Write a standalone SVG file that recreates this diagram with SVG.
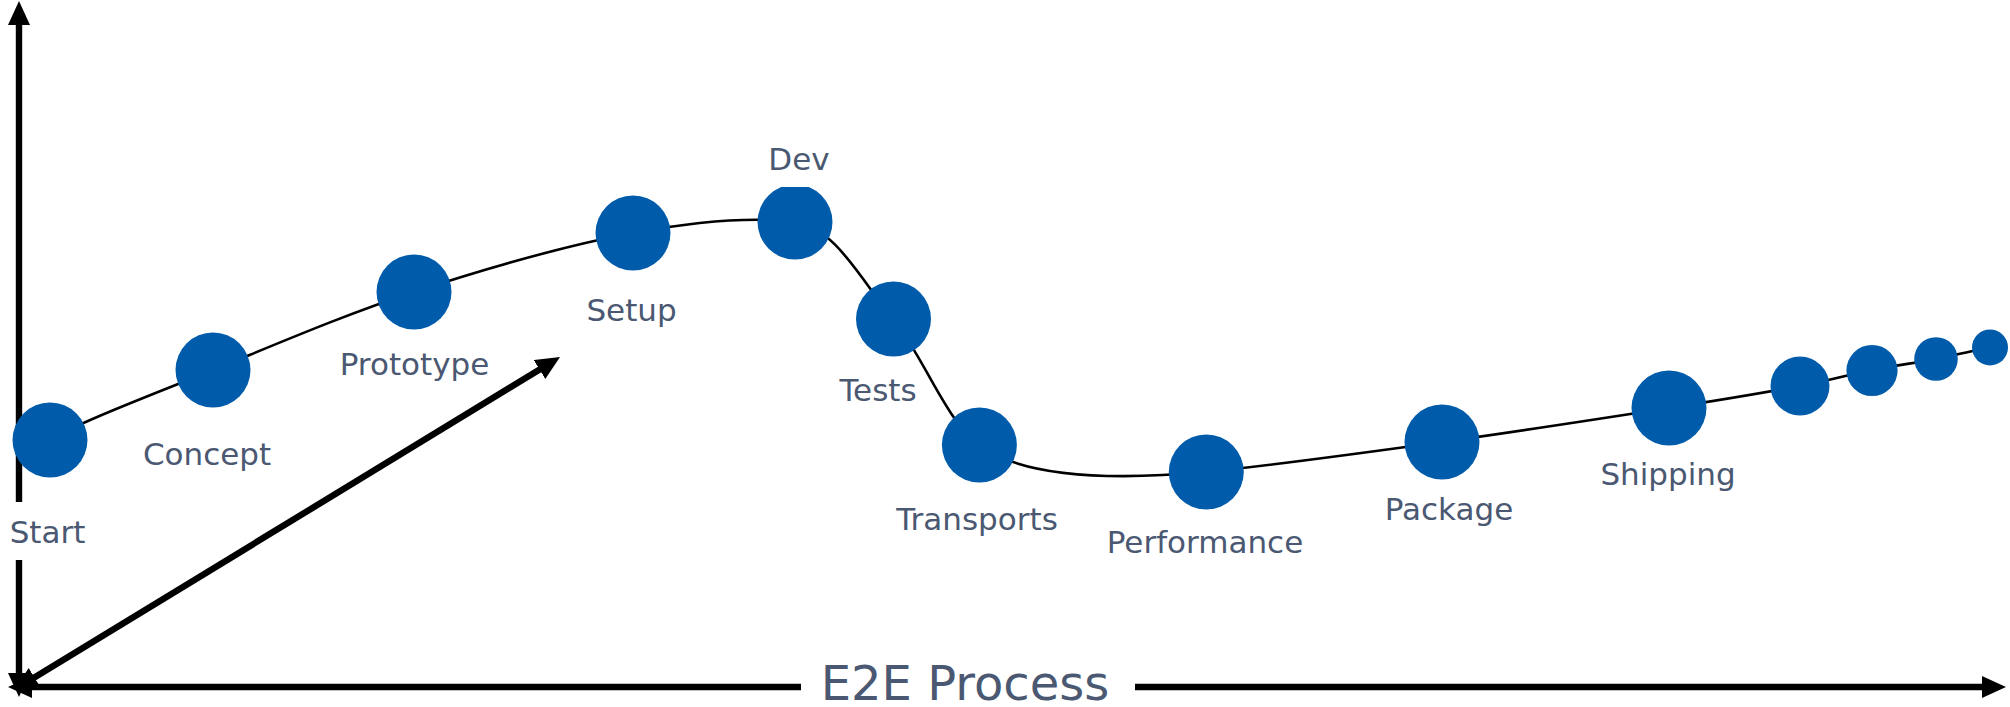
<svg xmlns="http://www.w3.org/2000/svg" width="2010" height="707" viewBox="0 0 2010 707">
<defs>
<marker id="ah" viewBox="0 0 24 22" refX="16" refY="11" markerWidth="24" markerHeight="22" markerUnits="userSpaceOnUse" orient="auto-start-reverse">
<path d="M0,0 L24,11 L0,22 Z" fill="#000"/>
</marker>
</defs>
<style>
.axis{stroke:#000;stroke-width:6.4;fill:none;marker-start:url(#ah);marker-end:url(#ah)}
.curve{stroke:#000;stroke-width:2.6;fill:none}
.node{fill:#005BAA}
.lbl{font-family:"DejaVu Sans","Verdana",sans-serif;font-size:31px;fill:#4A5872;text-anchor:middle}
.big{font-size:48px}
.bg{fill:#fff}
</style>
<g id="axes">
<line class="axis" x1="19" y1="9" x2="19" y2="689"/>
<line class="axis" x1="16" y1="687" x2="1998" y2="687"/>
<line class="axis" x1="20.8" y1="685.8" x2="553.2" y2="361.2"/>
</g>
<g id="connectors">
<path class="curve" d="M50,440 C77,423 152.3,394.7 213,370 C273.7,345.3 344,314.8 414,292 C484,269.2 569.5,244.7 633,233 C696.5,221.3 755,217 795,222 C835,227 862.3,281.8 893,319 C923.7,356.2 944.5,418.8 979,445 C1030,483 1140,478 1206,472 C1263,466.3 1364.8,452.7 1442,442 C1519.2,431.3 1609.3,417.3 1669,408 C1728.7,398.7 1766.2,392.3 1800,386 C1833.8,379.7 1849.3,374.5 1872,370 C1894.7,365.5 1916.3,362.8 1936,359 C1955.7,355.2 1981,349 1990,347"/>
</g>
<g id="start"><circle class="node" cx="50" cy="440" r="37.5"/><rect class="bg" x="0" y="502" width="96" height="58"/><text class="lbl" x="47.5" y="543">Start</text></g>
<g id="concept"><circle class="node" cx="213" cy="370" r="37.5"/><text class="lbl" x="207" y="465">Concept</text></g>
<g id="prototype"><circle class="node" cx="414" cy="292" r="37.5"/><text class="lbl" x="414.5" y="375">Prototype</text></g>
<g id="setup"><circle class="node" cx="633" cy="233" r="37.5"/><text class="lbl" x="631.5" y="321">Setup</text></g>
<g id="dev"><circle class="node" cx="795" cy="222" r="37.5"/><rect class="bg" x="762" y="145" width="74" height="42"/><text class="lbl" x="799" y="170">Dev</text></g>
<g id="tests"><circle class="node" cx="893.5" cy="319" r="37.5"/><text class="lbl" x="878" y="401">Tests</text></g>
<g id="transports"><circle class="node" cx="979.4" cy="445" r="37.5"/><text class="lbl" x="977" y="530">Transports</text></g>
<g id="performance"><circle class="node" cx="1206.3" cy="472" r="37.5"/><text class="lbl" x="1205" y="553">Performance</text></g>
<g id="package"><circle class="node" cx="1442" cy="442" r="37.5"/><text class="lbl" x="1449" y="520">Package</text></g>
<g id="shipping"><circle class="node" cx="1669" cy="408" r="37.5"/><text class="lbl" x="1668" y="485">Shipping</text></g>
<g id="dot1"><circle class="node" cx="1800" cy="386" r="29.5"/></g>
<g id="dot2"><circle class="node" cx="1872" cy="370.5" r="25.6"/></g>
<g id="dot3"><circle class="node" cx="1936" cy="359" r="21.8"/></g>
<g id="dot4"><circle class="node" cx="1990" cy="347.4" r="18"/></g>
<g id="e2e"><rect class="bg" x="801" y="660" width="334" height="47"/><text class="lbl big" x="965" y="700">E2E Process</text></g>
</svg>
